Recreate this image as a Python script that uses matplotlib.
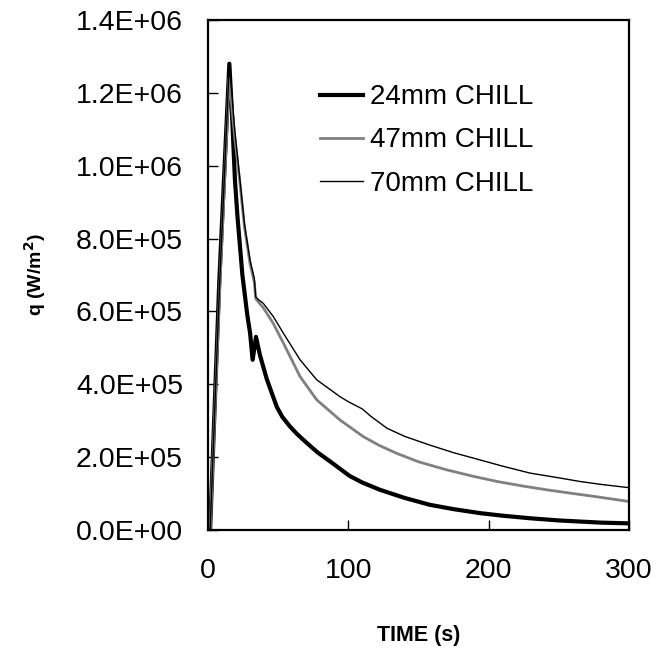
import matplotlib
matplotlib.use('Agg')
import matplotlib.pyplot as plt

plt.rcParams['font.family'] = ['Liberation Sans', 'DejaVu Sans']

# 24mm chill (thick black)
t24 = [0, 1.5, 8, 15.2, 17, 19.2, 21, 22.8, 24.5, 26.4, 28, 30, 31.8, 34.2, 37, 41.8, 46, 49,
       53, 58.4, 63, 68, 78, 87, 101, 110, 122.6, 140, 158, 175, 194, 210, 229.5, 250, 265, 280, 300]
q24 = [0, 0, 0.68e6, 1.28e6, 1.15e6, 0.96e6, 0.86e6, 0.778e6, 0.70e6, 0.64e6, 0.59e6, 0.54e6,
       0.467e6, 0.53e6, 0.48e6, 0.415e6, 0.37e6, 0.338e6, 0.31e6, 0.284e6, 0.265e6, 0.247e6,
       0.213e6, 0.188e6, 0.148e6, 0.13e6, 0.11e6, 0.088e6, 0.069e6, 0.057e6, 0.046e6, 0.039e6,
       0.032e6, 0.026e6, 0.023e6, 0.02e6, 0.018e6]

# 47mm chill (grey)
t47 = [0, 1.5, 8, 15, 19, 22.8, 26, 30, 33, 34, 36, 39.4, 46.5, 53.7, 65.6, 77.5, 94, 110.7,
       122, 134.6, 150, 170, 188, 206, 225, 241.6, 260, 277, 300]
q47 = [0, 0, 0.63e6, 1.24e6, 1.08e6, 0.95e6, 0.83e6, 0.73e6, 0.68e6, 0.635e6, 0.625e6, 0.61e6,
       0.567e6, 0.513e6, 0.421e6, 0.357e6, 0.302e6, 0.256e6, 0.232e6, 0.21e6, 0.187e6, 0.165e6,
       0.148e6, 0.133e6, 0.12e6, 0.11e6, 0.10e6, 0.091e6, 0.078e6]

# 70mm chill (thin black)
t70 = [0, 1.5, 8, 15.2, 19, 22.8, 26, 30, 33, 34, 36, 39.4, 46.5, 53.7, 65.6, 77.5, 94, 100,
       110, 116, 127.6, 140, 158, 175, 194, 210, 229.5, 250, 265, 280, 300]
q70 = [0, 0, 0.65e6, 1.28e6, 1.10e6, 0.96e6, 0.84e6, 0.74e6, 0.69e6, 0.64e6, 0.632e6, 0.622e6,
       0.586e6, 0.54e6, 0.467e6, 0.412e6, 0.366e6, 0.352e6, 0.332e6, 0.312e6, 0.279e6, 0.257e6,
       0.233e6, 0.212e6, 0.192e6, 0.175e6, 0.156e6, 0.143e6, 0.133e6, 0.125e6, 0.116e6]

yticks = [0, 2e5, 4e5, 6e5, 8e5, 1e6, 1.2e6, 1.4e6]
ylabels = ['0.0E+00', '2.0E+05', '4.0E+05', '6.0E+05', '8.0E+05', '1.0E+06', '1.2E+06', '1.4E+06']
xticks = [0, 100, 200, 300]

fig = plt.figure(figsize=(6.71, 6.51), dpi=100)
ax = fig.add_axes([0.31, 0.186, 0.6274, 0.7833])

ax.plot(t24, q24, color='black', lw=3.0, label='24mm CHILL')
ax.plot(t47, q47, color='#808080', lw=2.0, label='47mm CHILL')
ax.plot(t70, q70, color='black', lw=1.0, label='70mm CHILL')

ax.set_xlim(0, 300)
ax.set_ylim(0, 1.4e6)
ax.set_xticks(xticks)
ax.set_xticklabels([str(x) for x in xticks])
ax.set_yticks(yticks)
ax.set_yticklabels(ylabels)
ax.tick_params(direction='in', length=7, width=1, labelsize=20.5)
ax.tick_params(axis='y', pad=18)
ax.tick_params(axis='x', pad=20)
for s in ax.spines.values():
    s.set_linewidth(1.6)

ax.set_xlabel('TIME (s)', fontsize=15.5, fontweight='bold', labelpad=30)
ax.set_ylabel('q (W/m$^\\mathbf{2}$)', fontsize=14, fontweight='bold', labelpad=20)

ax.legend(loc='upper left', bbox_to_anchor=(0.266, 0.874), frameon=False, fontsize=20,
          handlelength=1.55, handletextpad=0.25, labelspacing=0.62, borderpad=0,
          borderaxespad=0)

fig.savefig('out.png', dpi=100)
